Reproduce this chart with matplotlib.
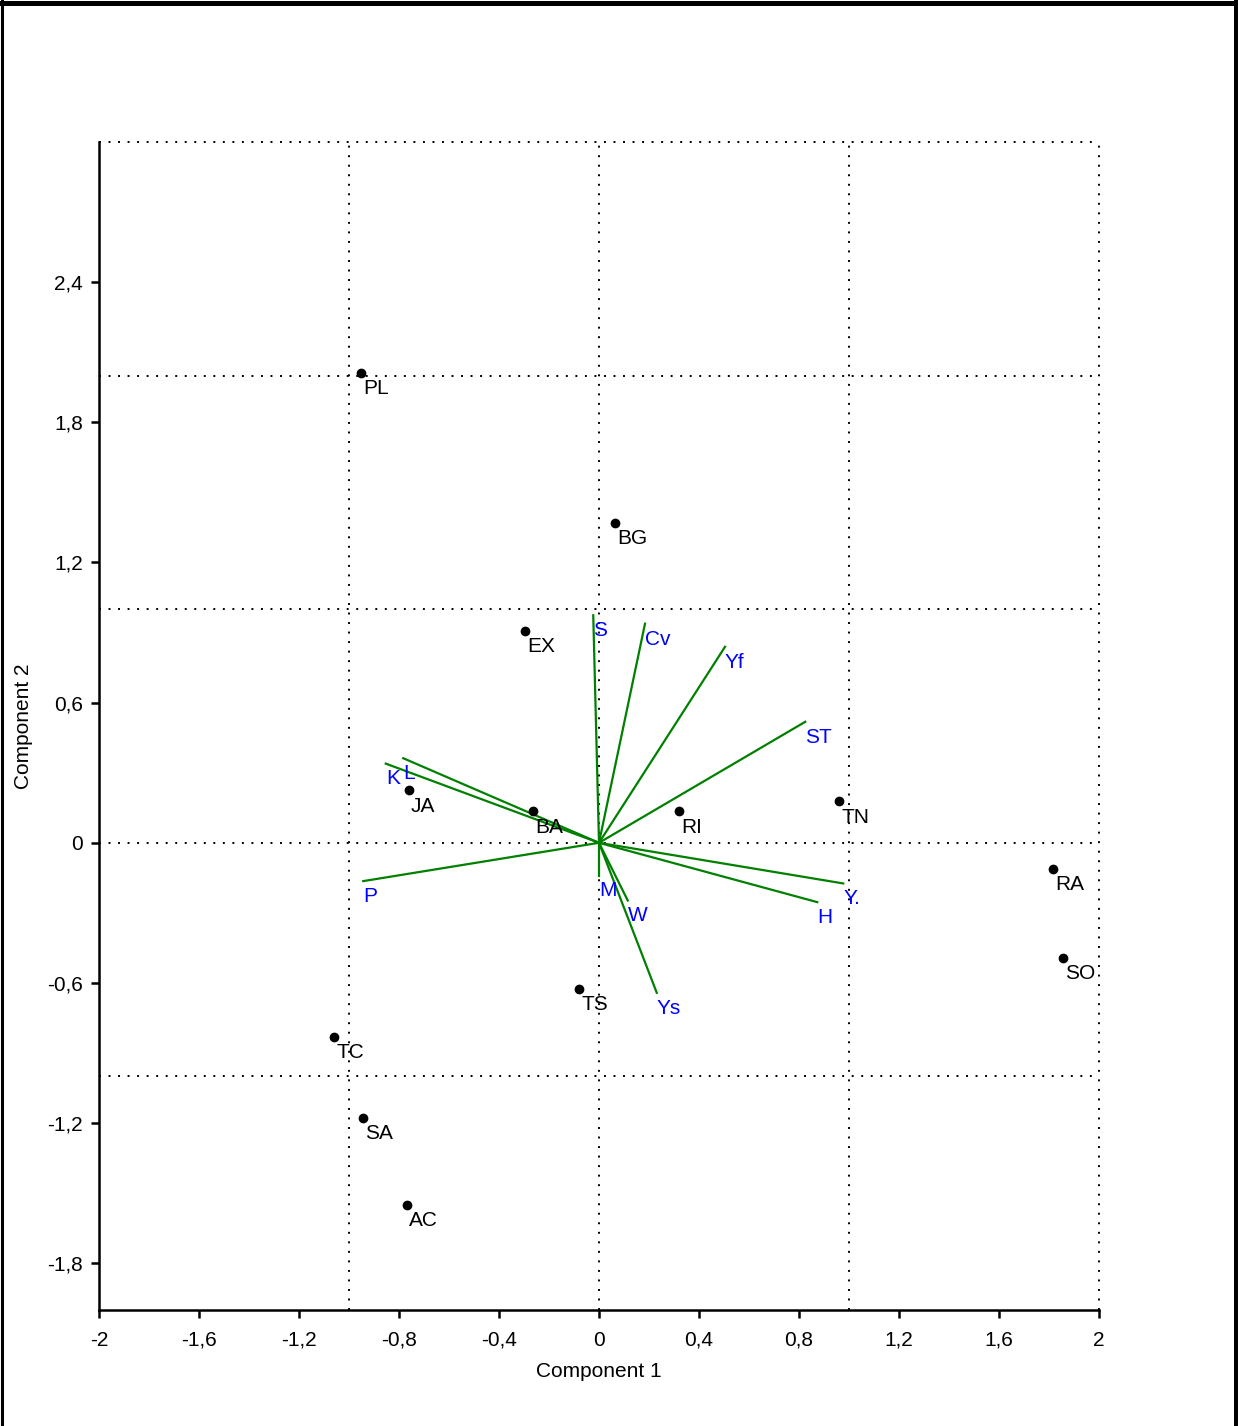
import matplotlib
matplotlib.use("Agg")
import matplotlib.pyplot as plt
from matplotlib.lines import Line2D
from matplotlib.ticker import FuncFormatter

plt.rcParams['font.family'] = ['Liberation Sans', 'DejaVu Sans']

# sample scores (component 1, component 2)
obs_names = ['PL', 'BG', 'EX', 'JA', 'BA', 'RI', 'TN', 'RA', 'SO', 'TS', 'TC', 'SA', 'AC']
obs_pc1 = [-0.952, 0.064, -0.296, -0.760, -0.264, 0.320, 0.960, 1.815, 1.855, -0.079, -1.059, -0.945, -0.769]
obs_pc2 = [2.012, 1.370, 0.908, 0.224, 0.134, 0.134, 0.177, -0.111, -0.492, -0.625, -0.830, -1.176, -1.550]

# variable loadings
var_names = ['S', 'Cv', 'Yf', 'ST', 'L', 'K', 'P', 'M', 'W', 'Ys', 'H', 'Y.']
var_pc1 = [-0.023, 0.184, 0.504, 0.825, -0.783, -0.853, -0.943, 0.0, 0.115, 0.231, 0.873, 0.977]
var_pc2 = [0.974, 0.938, 0.839, 0.518, 0.362, 0.339, -0.164, -0.140, -0.247, -0.642, -0.254, -0.174]

xticks = [-2, -1.6, -1.2, -0.8, -0.4, 0, 0.4, 0.8, 1.2, 1.6, 2]
yticks = [-1.8, -1.2, -0.6, 0, 0.6, 1.2, 1.8, 2.4]
grid_x = [-1, 0, 1, 2]
grid_y = [-1, 0, 1, 2, 3]


def comma_fmt(v, pos):
    s = '%g' % round(v, 2)
    if s == '-0':
        s = '0'
    return s.replace('.', ',')


W, H = 1238, 1426
fig = plt.figure(figsize=(W / 100, H / 100), dpi=100)
ax = fig.add_axes([99 / W, (H - 1310) / H, 1000 / W, 1168 / H])
ax.set_xlim(-2, 2)
ax.set_ylim(-2, 3)

dots = (0, (1, 3.9))
for gx in grid_x:
    ax.axvline(gx, color='black', lw=1.4, ls=dots, zorder=0.5, clip_on=False)
for gy in grid_y:
    ax.axhline(gy, color='black', lw=1.4, ls=dots, zorder=0.5, clip_on=False)

for side in ('top', 'right'):
    ax.spines[side].set_visible(False)
for side in ('left', 'bottom'):
    ax.spines[side].set_linewidth(1.8)

ax.set_xticks(xticks)
ax.set_yticks(yticks)
ax.xaxis.set_major_formatter(FuncFormatter(comma_fmt))
ax.yaxis.set_major_formatter(FuncFormatter(comma_fmt))
ax.tick_params(axis='both', direction='out', length=6, width=1.8, labelsize=15)
ax.tick_params(axis='x', pad=9)
ax.tick_params(axis='y', pad=5.5)

ax.set_xlabel('Component 1', fontsize=15)
ax.set_ylabel('Component 2', fontsize=15)
ax.xaxis.set_label_coords(0.5, -0.0445)
ax.yaxis.set_label_coords(-0.066, 0.5)

# loading vectors
for name, vx, vy in zip(var_names, var_pc1, var_pc2):
    ax.plot([0, vx], [0, vy], color='#008000', lw=1.6, zorder=2)
    ax.annotate(name, (vx, vy), xytext=(0, -15), textcoords='offset points',
                ha='left', va='baseline', color='#0000ff', fontsize=15, zorder=3)

# sample scores
ax.plot(obs_pc1, obs_pc2, 'o', color='black', ms=6, zorder=3)
for name, px, py in zip(obs_names, obs_pc1, obs_pc2):
    ax.annotate(name, (px, py), xytext=(1.5, -15.5), textcoords='offset points',
                ha='left', va='baseline', color='black', fontsize=15, zorder=3)

# frame around the figure
fig.add_artist(Line2D([0, 1], [1 - 2.5 / H, 1 - 2.5 / H], transform=fig.transFigure, color='black', lw=3.6))
fig.add_artist(Line2D([1.5 / W, 1.5 / W], [0, 1], transform=fig.transFigure, color='black', lw=2.2))
fig.add_artist(Line2D([1 - 2.5 / W, 1 - 2.5 / W], [0, 1], transform=fig.transFigure, color='black', lw=3.6))

fig.savefig('out.png', dpi=100)
